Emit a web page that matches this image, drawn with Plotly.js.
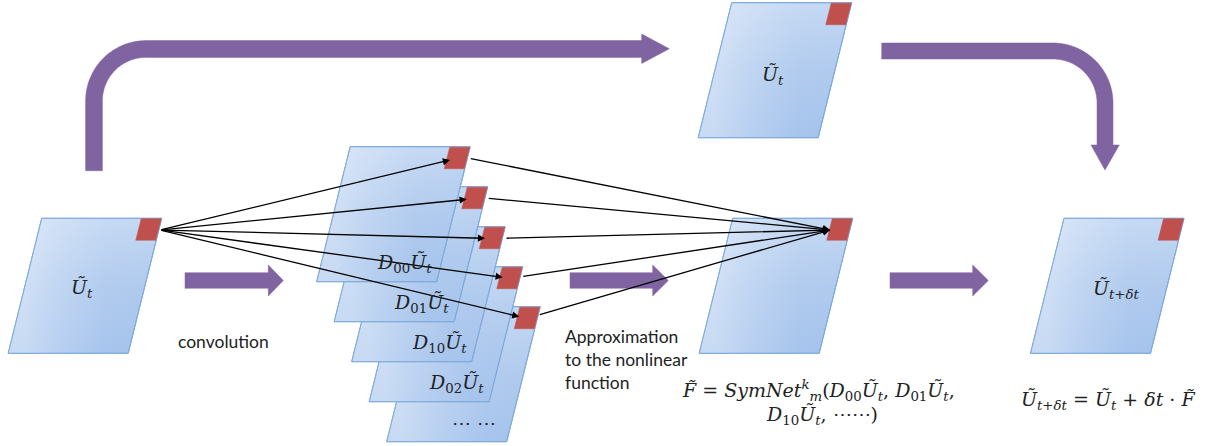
<!DOCTYPE html>
<html><head><meta charset="utf-8">
<script src="https://cdn.plot.ly/plotly-3.0.1.min.js"></script>
<style>html,body{margin:0;padding:0;background:#fff}#chart{width:1211px;height:446px}</style>
</head><body><div id="chart"></div>
<script>
// ---- diagram content ----
const mainLabels = ['<i>Ũ</i><sub><i>t</i></sub>', '<i>Ũ</i><sub><i>t</i></sub>', '', '<i>Ũ</i><sub><i>t</i>+<i>δt</i></sub>'];
const mainPanelX = [41.7, 731.7, 732.7, 1064];
const mainPanelY = [218.3, 2.7, 218.3, 218.3];
const stackLabels = ['<i>D</i><sub>00</sub><i>Ũ</i><sub><i>t</i></sub>', '<i>D</i><sub>01</sub><i>Ũ</i><sub><i>t</i></sub>',
  '<i>D</i><sub>10</sub><i>Ũ</i><sub><i>t</i></sub>', '<i>D</i><sub>02</sub><i>Ũ</i><sub><i>t</i></sub>', '⋯ ⋯'];
const stackX = [350.2, 367.7, 385.2, 402.7, 420.2];
const stackY = [146.7, 186.7, 226.7, 266.7, 306.7];
// black arrows: input -> derivative maps, derivative maps -> SymNet output
const fanSource = [160, 230];
const fanInEndX = [450, 466.7, 485, 502.7, 519.3];
const fanInEndY = [160, 199.3, 238.3, 277.3, 316.7];
const fanOutStartX = [469.3, 487.3, 505, 521.7, 538.3];
const fanOutStartY = [158.3, 198.3, 238.3, 276.7, 315];
const fanTarget = [830, 230];
// purple block arrows
const flowStartX = [185, 570, 890];
const flowHeadX = [268.3, 652.7, 972.7];
const flowTipX = [283.3, 668.3, 988.3];
const flowY = 280.5;

const W = 120, H = 135, SK = 33.5;
const PURPLE = '#8064a2', RED = '#c0504d', EDGE = '#7eaadb';
const traces = [];
const annotations = [];

function panel(x0, y0) {
  const xs = [x0, x0 + W, x0 + W - SK, x0 - SK, x0], ys = [y0, y0, y0 + H, y0 + H, y0];
  traces.push({
    x: xs, y: ys, mode: 'lines', fill: 'toself', line: {color: EDGE, width: 1},
    fillgradient: {type: 'vertical', start: y0, stop: y0 + H, colorscale: [[0, '#c4d8f3'], [0.5, '#afcaee'], [1, '#a3c2ec']]},
    fillcolor: '#b4cdef', hoverinfo: 'skip', showlegend: false
  });
  traces.push({
    x: xs, y: ys, mode: 'lines', fill: 'toself', line: {color: EDGE, width: 1},
    fillgradient: {type: 'horizontal', start: x0 - SK * 0.5, stop: x0 + W,
      colorscale: [[0, 'rgba(255,255,255,0.4)'], [0.25, 'rgba(255,255,255,0.22)'], [0.6, 'rgba(255,255,255,0.04)'], [1, 'rgba(255,255,255,0)']]},
    fillcolor: 'rgba(255,255,255,0)', hoverinfo: 'skip', showlegend: false
  });
  const xr = x0 + W - 0.5, rs = 20, rh = 22, rk = rh * SK / H;
  traces.push({
    x: [xr - rs, xr, xr - rk, xr - rs - rk, xr - rs], y: [y0 + 0.5, y0 + 0.5, y0 + rh, y0 + rh, y0 + 0.5],
    mode: 'lines', fill: 'toself', fillcolor: RED, line: {color: RED, width: 0.5},
    hoverinfo: 'skip', showlegend: false
  });
}

// stacked derivative maps (back to front)
for (let i = stackX.length - 1; i >= 0; i--) panel(stackX[i], stackY[i]);
for (let i = 0; i < mainPanelX.length; i++) panel(mainPanelX[i], mainPanelY[i]);

// purple straight arrows
for (let i = 0; i < flowStartX.length; i++) {
  const s = 7.8, h = 15.5;
  traces.push({
    x: [flowStartX[i], flowHeadX[i], flowHeadX[i], flowTipX[i], flowHeadX[i], flowHeadX[i], flowStartX[i], flowStartX[i]],
    y: [flowY - s, flowY - s, flowY - h, flowY, flowY + h, flowY + s, flowY + s, flowY - s],
    mode: 'lines', fill: 'toself', fillcolor: PURPLE, line: {color: PURPLE, width: 0.5},
    hoverinfo: 'skip', showlegend: false
  });
}

// curved skip arrows as filled bands
function arc(cx, cy, r, a0, a1, n) {
  const xs = [], ys = [];
  for (let k = 0; k <= n; k++) { const a = a0 + (a1 - a0) * k / n; xs.push(cx + r * Math.cos(a)); ys.push(cy + r * Math.sin(a)); }
  return [xs, ys];
}
function band(xs, ys) {
  traces.push({x: xs, y: ys, mode: 'lines', fill: 'toself', fillcolor: PURPLE,
    line: {color: PURPLE, width: 0.5, simplify: false}, hoverinfo: 'skip', showlegend: false});
}
(function () {
  let h = 8.4, r = 52;
  let o = arc(146, 101, r + h, Math.PI, 1.5 * Math.PI, 60), n = arc(146, 101, r - h, 1.5 * Math.PI, Math.PI, 60);
  band([94 - h, ...o[0], 642, 642, ...n[0], 94 + h, 94 - h],
       [170.7, ...o[1], 49 - h, 49 + h, ...n[1], 170.7, 170.7]);
  band([641.7, 669.3, 641.7, 641.7], [34, 48.8, 63.5, 34]);
  h = 8;
  o = arc(1053, 103, r + h, 1.5 * Math.PI, 2 * Math.PI, 60); n = arc(1053, 103, r - h, 2 * Math.PI, 1.5 * Math.PI, 60);
  band([881.7, ...o[0], 1105 + h, 1105 - h, ...n[0], 881.7, 881.7],
       [51 - h, ...o[1], 145.5, 145.5, ...n[1], 51 + h, 51 - h]);
  band([1091, 1119.3, 1105, 1091], [145, 145, 170, 145]);
})();

// black arrows
function arrow(x0, y0, x1, y1) {
  annotations.push({x: x1, y: y1, ax: x0, ay: y0, xref: 'x', yref: 'y', axref: 'x', ayref: 'y',
    text: '', showarrow: true, arrowhead: 2, arrowsize: 1.1, arrowwidth: 1.3, arrowcolor: '#000', standoff: 0});
}
for (let i = 0; i < fanInEndX.length; i++) arrow(fanSource[0], fanSource[1], fanInEndX[i], fanInEndY[i]);
for (let i = 0; i < fanOutStartX.length; i++) arrow(fanOutStartX[i], fanOutStartY[i], fanTarget[0], fanTarget[1]);

// text
const MATH = {family: 'DejaVu Serif, Liberation Serif, serif', size: 19, color: '#222'};
const SANS = {family: 'Lato, Open Sans, sans-serif', size: 17.5, color: '#222'};
function txt(x, y, t, font, extra) {
  annotations.push(Object.assign({x: x, y: y, xref: 'x', yref: 'y', text: t, showarrow: false, font: font,
    xanchor: 'center', yanchor: 'middle'}, extra || {}));
}
const mainLabelPos = [[81.7, 288], [773, 75], [0, 0], [1116.7, 289]];
for (let i = 0; i < mainLabels.length; i++) if (mainLabels[i]) txt(mainLabelPos[i][0], mainLabelPos[i][1], mainLabels[i], MATH);
for (let i = 0; i < stackLabels.length; i++) txt(stackX[i] + 54, stackY[i] + 116.5, stackLabels[i], MATH);
txt(223.3, 341.7, 'convolution', SANS);
txt(563, 359, 'Approximation<br>to the nonlinear<br>function', SANS, {xanchor: 'left', align: 'left'});
txt(818, 390, '<i>F̃</i> = <i>SymNet</i><sup><i>k</i></sup><sub><i>m</i></sub>(<i>D</i><sub>00</sub><i>Ũ</i><sub><i>t</i></sub>, <i>D</i><sub>01</sub><i>Ũ</i><sub><i>t</i></sub>,', MATH);
txt(821.7, 415, '<i>D</i><sub>10</sub><i>Ũ</i><sub><i>t</i></sub>, ⋯⋯)', MATH);
txt(1107.5, 400, '<i>Ũ</i><sub><i>t</i>+<i>δt</i></sub> = <i>Ũ</i><sub><i>t</i></sub> + <i>δt</i> · <i>F̃</i>', MATH);

const layout = {
  width: 1211, height: 446, margin: {l: 0, r: 0, t: 0, b: 0},
  paper_bgcolor: '#fff', plot_bgcolor: '#fff', showlegend: false,
  xaxis: {range: [0, 1211], visible: false, fixedrange: true},
  yaxis: {range: [446, 0], visible: false, fixedrange: true},
  annotations: annotations
};
Plotly.newPlot('chart', traces, layout, {staticPlot: true, displayModeBar: false});
</script></body></html>
